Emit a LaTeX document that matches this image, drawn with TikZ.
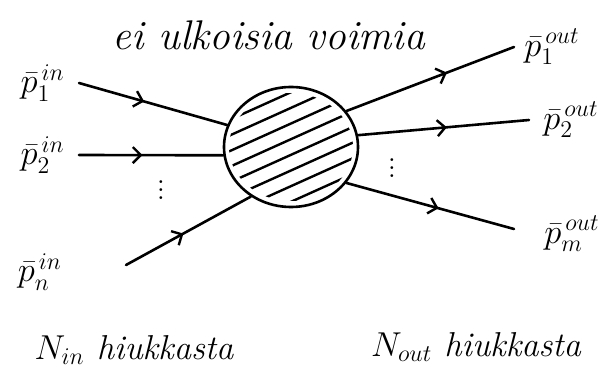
\documentclass[tikz,border=0pt]{standalone}
\usetikzlibrary{positioning,arrows.meta,calc,shapes.geometric,decorations.markings}
\tikzset{
  fig/.style={font=\LARGE\itshape},
  blobshape/.style={draw,ellipse,line width=1.3pt,minimum width=67pt,minimum height=60pt,inner sep=0pt},
  ln/.style={line width=1.3pt,line cap=round},
  flow/.style={ln,postaction={decorate},
    decoration={markings,mark=at position #1 with {\arrow{Straight Barb[length=4pt,width=8pt,line width=1.2pt]}}}},
  flow/.default=0.5,
  lbl/.style={font=\LARGE,inner sep=1pt},
  note/.style={font=\LARGE\itshape,inner sep=1pt},
}
\begin{document}
\begin{tikzpicture}[fig,x=0.5pt,y=-0.5pt,
  hatch/.style={line width=1.2pt,line cap=round}]
\useasboundingbox (0,0) rectangle (605,373);

\node[blobshape] (blob) at (291,147) {};
% hatching inside the blob
\begin{scope}
  \clip (blob.center) ellipse [x radius=62, y radius=54];
  \foreach \k in {-3.5,-2.5,...,3.5}
    \draw[hatch] ($(blob.center)+(\k*5.9-91,\k*13+41)$) -- ($(blob.center)+(\k*5.9+91,\k*13-41)$);
\end{scope}

\node[note,font=\huge\itshape] (title) at (269,35) {ei ulkoisia voimia};

% incoming
\coordinate (a1) at (79,83);
\coordinate (a2) at (79,155);
\coordinate (a3) at (126,265);
\node[lbl,left=6pt of a1] (pin1) {$\bar p_1^{\,in}$};
\node[lbl,left=6pt of a2] (pin2) {$\bar p_2^{\,in}$};
\node[lbl] (pin3) at (40,272) {$\bar p_n^{\,in}$};
\draw[flow=0.44] (a1) -- (blob.161);
\draw[flow=0.44] (a2) -- (blob.187);
\draw[flow=0.46] (a3) -- (blob.231);
\node[lbl] (dl) at (161,184) {$\vdots$};

% outgoing
\coordinate (b1) at (514,47);
\coordinate (b2) at (529,120);
\coordinate (b3) at (514,229);
\node[lbl,right=4pt of b1] (pout1) {$\bar p_1^{\,out}$};
\node[lbl,right=6pt of b2] (pout2) {$\bar p_2^{\,out}$};
\node[lbl] (pout3) at (572,234) {$\bar p_m^{\,out}$};
\draw[flow=0.6] (blob.33) -- (b1);
\draw[flow=0.52] (blob.10) -- (b2);
\draw[flow=0.55] (blob.327) -- (b3);
\node[lbl] (dr) at (392,162) {$\vdots$};

\node[note] (nin) at (134,350) {$N_{in}$ hiukkasta};
\node[note] (nout) at (476,347) {$N_{out}$ hiukkasta};

\end{tikzpicture}
\end{document}
